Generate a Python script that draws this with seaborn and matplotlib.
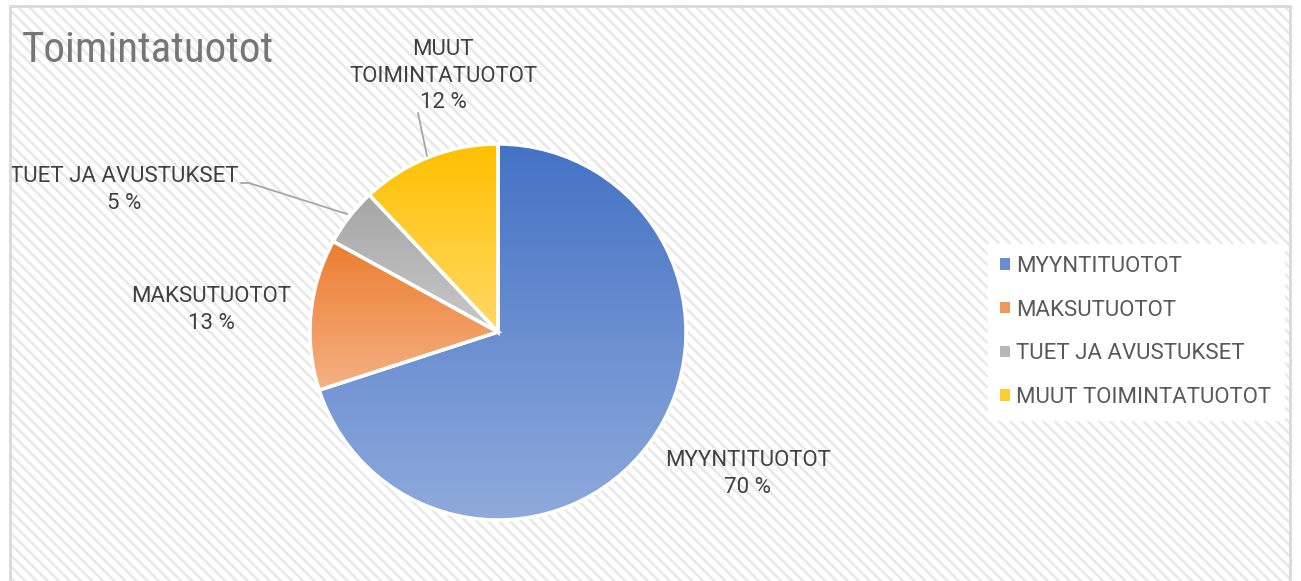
import numpy as np
import matplotlib
matplotlib.use("Agg")
import matplotlib.pyplot as plt
import seaborn as sns
from matplotlib.patches import Rectangle
from matplotlib.colors import LinearSegmentedColormap, to_rgb

categories = ["MYYNTITUOTOT", "MAKSUTUOTOT", "TUET JA AVUSTUKSET", "MUUT TOIMINTATUOTOT"]
shares = [70, 13, 5, 12]
label_texts = ["MYYNTITUOTOT\n70 %", "MAKSUTUOTOT\n13 %", "TUET JA AVUSTUKSET\n5 %", "MUUT\nTOIMINTATUOTOT\n12 %"]
top_colors = ["#4472C4", "#ED7D31", "#A5A5A5", "#FFC000"]
bottom_colors = ["#8FAADC", "#F4B183", "#C9C9C9", "#FFD966"]
title = "Toimintatuotot"

sns.set_theme(style="white")
plt.rcParams['font.family'] = ['Roboto', 'DejaVu Sans']
plt.rcParams['hatch.linewidth'] = 1.8

W, H = 1301, 581
fig = plt.figure(figsize=(W / 100, H / 100), dpi=100)
fig.patch.set_facecolor('white')

# hatched chart-area background and border
fig.add_artist(Rectangle((10 / W, 0), 1280 / W, (H - 6) / H, transform=fig.transFigure,
                         facecolor='white', edgecolor='#e8e8e8', hatch='\\\\\\', lw=0, zorder=0))
fig.add_artist(Rectangle((10 / W, -0.01), 1280 / W, (H - 6) / H + 0.01, transform=fig.transFigure,
                         fill=False, edgecolor='#d9d9d9', lw=2, zorder=0.5))

ax = fig.add_axes([0, 0, 1, 1])
ax.patch.set_visible(False)

def Y(y):
    return H - y

cx, cy, R = 498, Y(332), 188
wedges, _ = ax.pie(shares, startangle=90, counterclock=False, center=(cx, cy), radius=R,
                   frame=True, colors=top_colors,
                   wedgeprops=dict(edgecolor='white', linewidth=2.5))

for w, ct, cb in zip(wedges, top_colors, bottom_colors):
    ext = w.get_path().get_extents()
    cmap = LinearSegmentedColormap.from_list("g", [cb, ct])
    grad = np.linspace(0, 1, 256).reshape(-1, 1)
    im = ax.imshow(grad, extent=[ext.x0, ext.x1, ext.y0, ext.y1], origin='lower',
                   cmap=cmap, aspect='auto', zorder=1.5, interpolation='bilinear')
    im.set_clip_path(w)
    w.set_facecolor('none')
    w.set_zorder(2)

ax.set_xlim(0, W)
ax.set_ylim(0, H)
ax.set_aspect('auto')
ax.axis('off')

tc = '#404040'
fs = 16
ls = 1.35
ax.text(748, Y(474), label_texts[0], ha='center', va='center', fontsize=fs, color=tc, linespacing=ls)
ax.text(211, Y(310), label_texts[1], ha='center', va='center', fontsize=fs, color=tc, linespacing=ls)
ax.text(124, Y(190), label_texts[2], ha='center', va='center', fontsize=fs, color=tc, linespacing=ls)
ax.text(443, Y(76), label_texts[3], ha='center', va='center', fontsize=fs, color=tc, linespacing=ls)

# leader lines
ax.plot([241, 249, 347], [Y(183), Y(183), Y(214)], color='#a6a6a6', lw=1.3, zorder=3)
ax.plot([418, 427], [Y(113), Y(156)], color='#a6a6a6', lw=1.3, zorder=3)

ax.text(22, Y(50), title, ha='left', va='center', fontsize=31, color='#767676',
        family=['Roboto Condensed', 'DejaVu Sans'])

mid_colors = [tuple((np.array(to_rgb(a)) + np.array(to_rgb(b))) / 2) for a, b in zip(top_colors, bottom_colors)]
handles = [Rectangle((0, 0), 1, 1, facecolor=c, edgecolor='none') for c in mid_colors]
leg = ax.legend(handles, categories, loc='center left', bbox_to_anchor=(988 / W, 1 - 332 / H),
                bbox_transform=fig.transFigure, frameon=True, fancybox=False,
                facecolor='white', edgecolor='white', framealpha=1, borderaxespad=0,
                fontsize=16, handlelength=0.42, handleheight=0.42, handletextpad=0.3,
                labelspacing=1.02, borderpad=0.55)
for t in leg.get_texts():
    t.set_color('#595959')

fig.savefig("out.png", dpi=100)
